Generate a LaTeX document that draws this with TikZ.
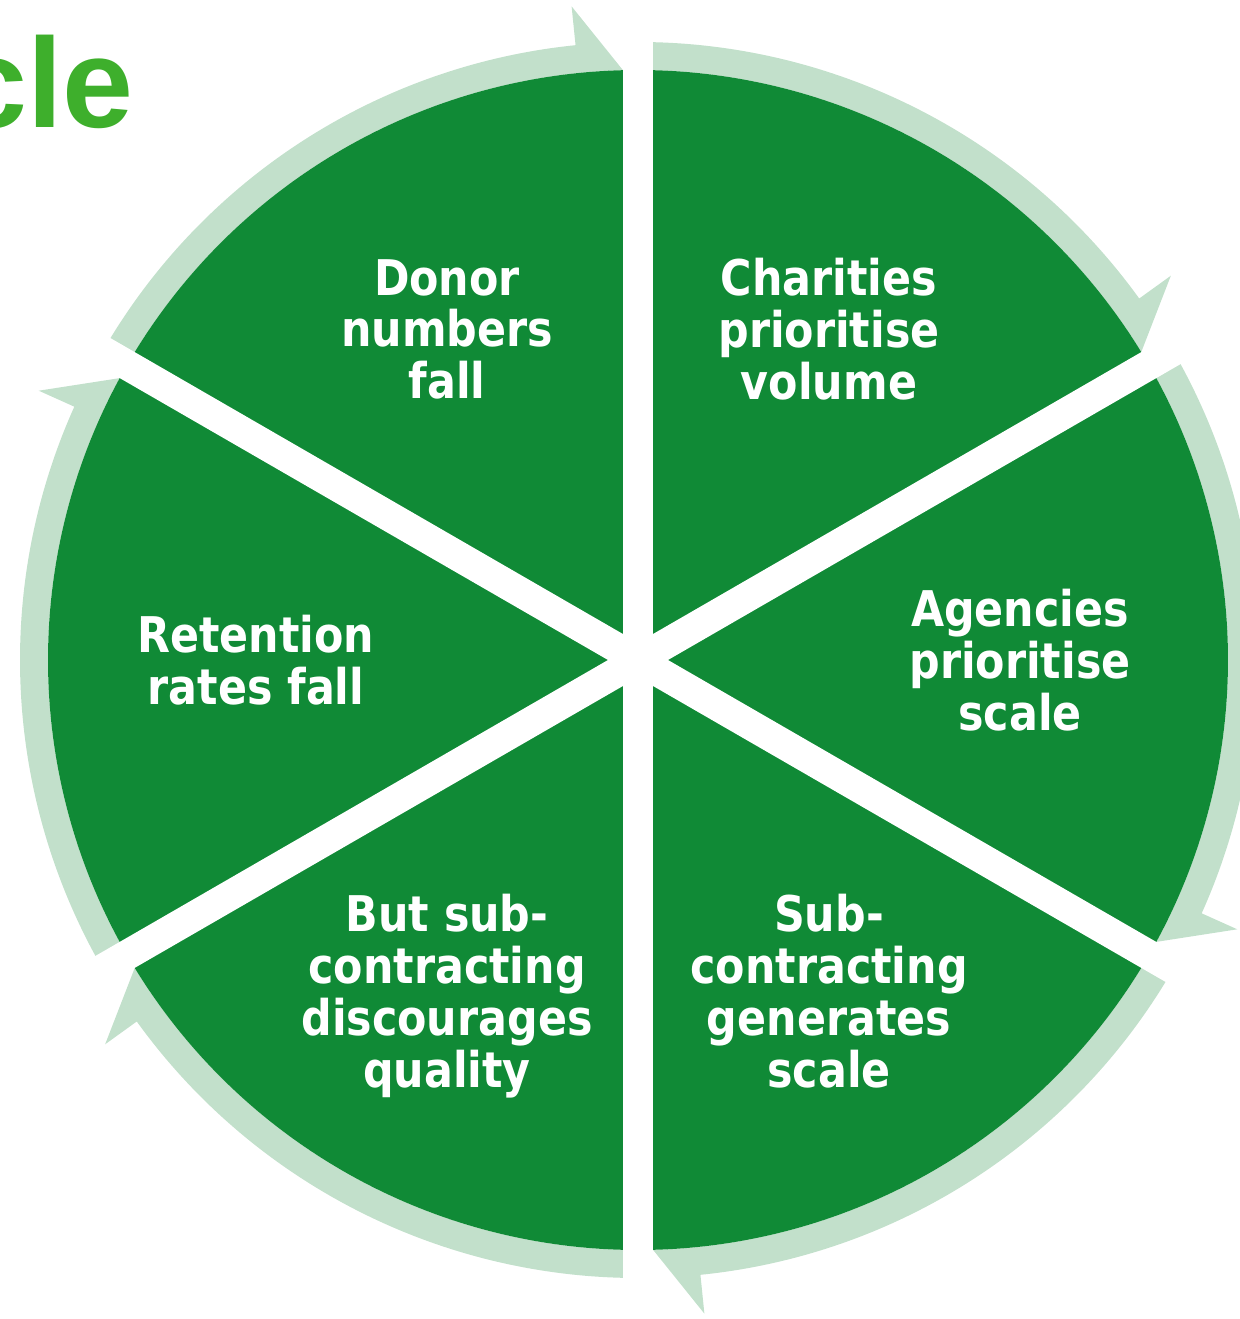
\documentclass[tikz,border=0pt]{standalone}
\usepackage{fontspec}
\newfontfamily\segfont{DejaVu Sans}[FakeStretch=0.87]
\newfontfamily\titlefont{Liberation Sans}
\definecolor{leafgreen}{HTML}{108A36}
\definecolor{palegreen}{HTML}{C2E0CB}
\definecolor{titlegreen}{HTML}{3EAF2C}
\tikzset{
  segment/.style={fill=leafgreen},
  band/.style={fill=palegreen},
  gap/.style={draw=white, line width=0.6cm},
  segtext/.style={text=white, inner sep=0pt, align=center,
    font=\segfont\bfseries\fontsize{28}{29.5}\selectfont,
    execute at begin node=\strut, execute at end node=\strut,
    yshift=-4.35pt}
}
\begin{document}
\begin{tikzpicture}[x=0.02cm,y=0.02cm]
  \useasboundingbox (-638,-659) rectangle (602,660);
  \clip (-638,-659) rectangle (602,660);

    \node[titlegreen, anchor=base east, inner sep=0pt,
    font=\titlefont\bfseries\fontsize{72.6}{80}\selectfont] (title)
    at (-504,532) {cle};

    \fill[band] (150:618) arc[start angle=150, end angle=95.8, radius=618]
    -- (95.8:657) -- (91.46:590)
    arc[start angle=91.46, end angle=150, radius=590] -- cycle;
    \fill[band] (90:618) arc[start angle=90, end angle=35.8, radius=618]
    -- (35.8:657) -- (31.46:590)
    arc[start angle=31.46, end angle=90, radius=590] -- cycle;
    \fill[band] (30:618) arc[start angle=30, end angle=-24.2, radius=618]
    -- (-24.2:657) -- (-28.54:590)
    arc[start angle=-28.54, end angle=30, radius=590] -- cycle;
    \fill[band] (-30:618) arc[start angle=-30, end angle=-84.2, radius=618]
    -- (-84.2:657) -- (-88.54:590)
    arc[start angle=-88.54, end angle=-30, radius=590] -- cycle;
    \fill[band] (-90:618) arc[start angle=-90, end angle=-144.2, radius=618]
    -- (-144.2:657) -- (-148.54:590)
    arc[start angle=-148.54, end angle=-90, radius=590] -- cycle;
    \fill[band] (210:618) arc[start angle=210, end angle=155.8, radius=618]
    -- (155.8:657) -- (151.46:590)
    arc[start angle=151.46, end angle=210, radius=590] -- cycle;

    \fill[segment] (0,0) -- (90:590)
    arc[start angle=90, end angle=150, radius=590] -- cycle;
    \fill[segment] (0,0) -- (30:590)
    arc[start angle=30, end angle=90, radius=590] -- cycle;
    \fill[segment] (0,0) -- (-30:590)
    arc[start angle=-30, end angle=30, radius=590] -- cycle;
    \fill[segment] (0,0) -- (-90:590)
    arc[start angle=-90, end angle=-30, radius=590] -- cycle;
    \fill[segment] (0,0) -- (-150:590)
    arc[start angle=-150, end angle=-90, radius=590] -- cycle;
    \fill[segment] (0,0) -- (150:590)
    arc[start angle=150, end angle=210, radius=590] -- cycle;

    \draw[gap] (90:700) -- (270:700);
    \draw[gap] (30:700) -- (210:700);
    \draw[gap] (150:700) -- (330:700);

    \node[segtext] (donor) at (120:382) {Donor\\numbers\\fall};
    \node[segtext] (charities) at (60:382) {Charities\\prioritise\\volume};
    \node[segtext] (agencies) at (0:382) {Agencies\\prioritise\\scale};
    \node[segtext] (subcon) at (-60:382)
    {Sub-\\contracting\\generates\\scale};
    \node[segtext] (butsub) at (-120:382)
    {But sub-\\contracting\\discourages\\quality};
    \node[segtext] (retention) at (180:382) {Retention\\rates fall};

\end{tikzpicture}
\end{document}
